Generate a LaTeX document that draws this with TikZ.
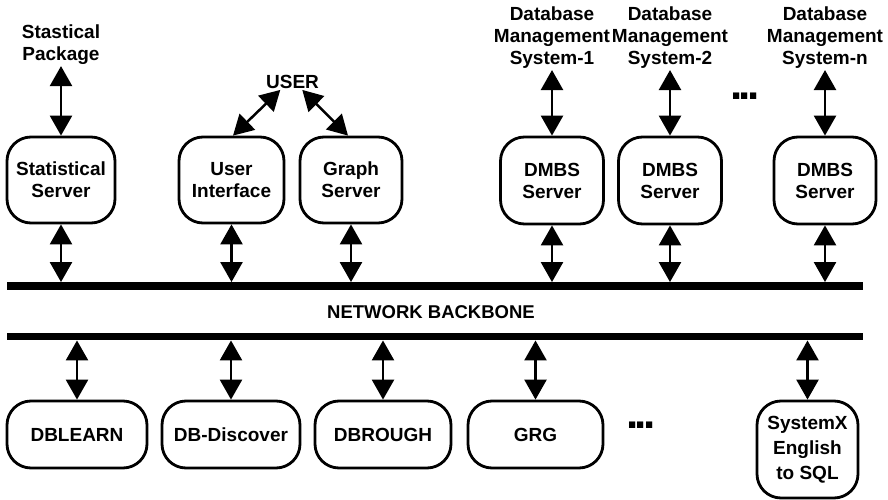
\documentclass[tikz,border=0pt]{standalone}
\usepackage{fontspec}
\setmainfont{Liberation Sans}
\usetikzlibrary{arrows.meta}
\begin{document}
\begin{tikzpicture}[x=1pt,y=-1pt,
  font=\fontsize{19}{22}\selectfont\bfseries,
  server/.style={draw, line width=2.8pt, rounded corners=24pt, align=center, inner sep=0pt},
  lbl/.style={align=center, inner sep=1pt},
  bus/.style={fill=black, inner sep=0pt, minimum width=856pt, minimum height=7.5pt},
  link/.style={line width=2.5pt, {Triangle[width=22pt,length=20pt]}-{Triangle[width=22pt,length=20pt]}},
  dots/.style={font=\fontsize{44}{44}\selectfont\bfseries, inner sep=0pt},
]
\useasboundingbox (0,0) rectangle (888,500);

% backbone
\node[bus] (topbus) at (435,286) {};
\node[bus] (botbus) at (435,336.5) {};
\node[font=\fontsize{18.5}{22}\selectfont\bfseries] (backbone) at (431,312) {NETWORK BACKBONE};

% upper servers
\node[server, minimum width=108pt, minimum height=86pt] (stat)  at (61,180)    {Statistical\\Server};
\node[server, minimum width=105pt, minimum height=86pt] (ui)    at (231.5,180) {User\\Interface};
\node[server, minimum width=102pt, minimum height=86pt] (graph) at (351,180)   {Graph\\Server};
\node[server, minimum width=103pt, minimum height=87pt] (dm1)   at (552,180.5) {DMBS\\Server};
\node[server, minimum width=103pt, minimum height=87pt] (dm2)   at (670,180.5) {DMBS\\Server};
\node[server, minimum width=102pt, minimum height=87pt] (dmn)   at (825,180.5) {DMBS\\Server};

% external systems above
\node[lbl] (pkg)  at (61,45)  {Stastical\\Package};
\node[lbl] (user) at (292.5,82) {USER};
\node[lbl] (dbs1) at (552,38) {Database\\Management\\System-1};
\node[lbl] (dbs2) at (670,38) {Database\\Management\\System-2};
\node[lbl] (dbsn) at (825,38) {Database\\Management\\System-n};
\node[dots] (topdots) at (745,96) {.\kern-3.5pt.\kern-3.5pt.};

% lower tools
\node[server, minimum width=140pt, minimum height=67pt] (dblearn) at (77,434.5)  {DBLEARN};
\node[server, minimum width=138pt, minimum height=67pt] (dbdisc)  at (231,434.5) {DB-Discover};
\node[server, minimum width=136pt, minimum height=67pt] (dbrough) at (383,434.5) {DBROUGH};
\node[server, minimum width=135pt, minimum height=67pt] (grg)     at (535.5,434.5) {GRG};
\node[dots] (botdots) at (641,425) {.\kern-3.5pt.\kern-3.5pt.};
\node[server, minimum width=101pt, minimum height=97pt,
      font=\fontsize{19}{25}\selectfont\bfseries] (sysx) at (807.5,449.5) {SystemX\\English\\to SQL};

% links to the backbone
\foreach \n in {stat,ui,graph,dm1,dm2,dmn}
  \draw[link] (\n.south) -- (\n.south |- topbus.north);
\foreach \n in {dblearn,dbdisc,dbrough,grg,sysx}
  \draw[link] (\n.north) -- (\n.north |- botbus.south);

% links upward
\draw[link] (stat.north) -- (stat.north |- pkg.south);
\draw[link] (dm1.north) -- (dm1.north |- dbs1.south);
\draw[link] (dm2.north) -- (dm2.north |- dbs2.south);
\draw[link] (dmn.north) -- (dmn.north |- dbsn.south);
\draw[link] (user.213) -- ([xshift=1.5pt]ui.north);
\draw[link] (user.321) -- ([xshift=-3pt]graph.north);
\end{tikzpicture}
\end{document}
